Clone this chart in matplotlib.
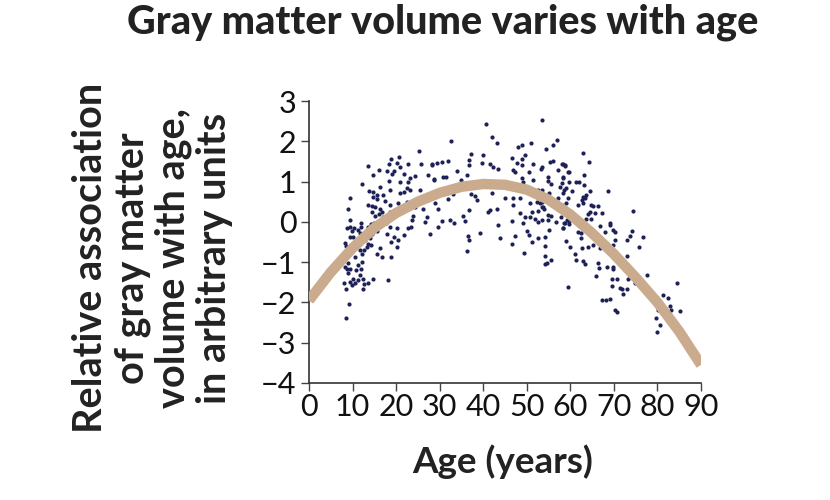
import matplotlib
matplotlib.use("Agg")
import matplotlib.pyplot as plt

# scatter points (age in years, relative association)
young_age = [25.3, 13.6, 18.8, 20.7, 18.4, 20.1, 22.8, 20.9, 25.7, 28.2, 16.0, 17.8, 19.6, 19.0, 21.7,
             23.2, 24.3, 14.8, 12.1, 18.4, 20.9, 22.8, 22.6, 23.2, 21.8, 16.3, 13.8, 14.8, 15.5, 17.1,
             18.6, 20.9, 25.5, 27.4, 28.8, 9.4, 14.8, 15.5, 17.4, 18.6, 14.4, 13.6, 15.1, 16.3, 14.4,
             16.7, 15.1, 16.1, 16.9, 18.6, 20.4, 22.4, 24.3, 23.9, 23.6, 23.4, 22.8, 21.7, 20.1, 18.6,
             17.7, 16.3, 18.6, 18.0, 19.4, 20.4, 18.9, 20.1, 18.9, 16.3, 16.7, 15.5, 14.2, 13.6, 13.2,
             12.6, 12.1, 11.7, 10.9, 10.2, 9.3, 9.8, 8.8, 9.4, 10.3, 11.3, 11.9, 11.6, 11.9, 9.4,
             9.0, 13.6, 14.2, 14.9, 15.5, 14.5, 14.0, 12.9, 12.5, 11.9, 8.3, 8.6, 10.2, 10.8, 10.6,
             12.1, 11.3, 11.9, 10.9, 11.7, 12.5, 11.3, 10.2, 9.4, 10.6, 9.8, 8.6, 8.0, 9.0, 8.8,
             8.3, 9.0, 9.4, 14.8, 13.6, 12.7, 12.5, 18.2, 9.2, 8.6, 26.6, 27.8, 29.5, 26.2, 27.0,
             29.7, 29.3]
young_val = [1.77, 1.39, 1.55, 1.60, 1.43, 1.45, 1.43, 1.37, 1.43, 1.41, 1.29, 1.26, 1.26, 1.20, 1.19,
             1.08, 1.14, 1.16, 0.95, 1.02, 0.99, 0.99, 0.85, 0.79, 0.75, 0.87, 0.76, 0.75, 0.66, 0.66,
             0.79, 0.71, 0.79, 1.16, 1.06, 0.60, 0.61, 0.56, 0.51, 0.42, 0.40, 0.42, 0.36, 0.33, 0.25,
             0.25, 0.14, 0.19, 0.13, 0.25, 0.47, 0.50, 0.37, 0.14, 0.04, -0.14, -0.16, -0.33, -0.16, 0.08,
             -0.04, 0.00, -0.12, -0.29, -0.37, -0.45, -0.50, -0.62, -0.87, -0.66, -0.87, -0.79, -0.58, -0.54, -0.62,
             -0.70, -0.79, -0.69, -0.50, -0.37, -0.37, -0.23, -0.16, -0.12, -0.16, -0.20, -0.12, -0.27, -0.02, 0.04,
             0.33, -0.12, -0.06, -0.04, -0.23, -0.29, -0.41, -0.45, -0.31, -0.31, -0.52, -0.60, -0.54, -0.62, -0.87,
             -0.99, -1.08, -1.16, -1.20, -1.32, -1.41, -1.45, -1.41, -1.49, -1.53, -1.57, -1.66, -1.52, -1.28, -1.18,
             -1.12, -1.03, -1.18, -1.41, -1.52, -1.55, -1.66, -1.45, -2.03, -2.39, 0.00, -0.29, -0.14, 0.33, 0.13,
             0.33, 1.45]

middle_age = [40.6, 53.6, 41.9, 43.1, 32.6, 37.1, 39.9, 36.8, 36.8, 39.7, 41.5, 42.3, 43.3, 32.0, 30.5,
              28.2, 34.0, 36.2, 31.4, 30.8, 34.8, 28.8, 46.7, 48.0, 48.8, 51.0, 49.6, 47.8, 49.0, 48.8,
              46.9, 47.3, 50.6, 51.5, 53.3, 53.6, 54.4, 56.1, 57.0, 55.3, 56.1, 57.2, 58.1, 58.8, 59.5,
              58.4, 54.9, 54.8, 55.5, 53.5, 52.6, 51.5, 49.0, 49.2, 58.0, 57.6, 59.0, 58.4, 59.5, 59.0,
              58.0, 57.1, 55.1, 53.5, 53.0, 52.3, 50.7, 53.6, 54.0, 54.8, 52.6, 51.1, 51.9, 50.7, 49.6,
              48.4, 46.9, 46.9, 48.4, 45.0, 41.9, 37.3, 38.1, 38.6, 36.8, 35.4, 35.8, 41.2, 41.5, 43.1,
              43.5, 46.5, 49.2, 52.6, 53.6, 55.5, 54.9, 56.8, 58.5, 59.8, 58.2, 55.2, 54.2, 52.6, 54.2,
              51.3, 50.6, 50.0, 49.3, 47.3, 46.6, 43.8, 39.3, 36.4, 36.8, 36.3, 32.4, 33.3, 30.5, 28.9,
              31.8, 33.1, 54.2, 54.6, 54.2, 55.5, 59.5, 54.6, 53.8]
middle_val = [2.44, 2.53, 2.11, 1.95, 2.01, 1.68, 1.66, 1.53, 1.41, 1.47, 1.43, 1.37, 1.31, 1.51, 1.48,
              1.43, 1.27, 1.16, 1.12, 1.12, 1.04, 1.05, 1.58, 1.87, 1.92, 1.95, 1.66, 1.45, 1.41, 1.55,
              1.29, 1.24, 1.25, 1.43, 1.30, 1.35, 1.80, 1.91, 2.03, 1.49, 1.52, 1.29, 1.43, 1.41, 1.25,
              1.12, 1.12, 1.01, 0.95, 0.80, 0.80, 1.05, 1.10, 0.99, 0.97, 0.87, 0.83, 0.71, 0.59, 0.46,
              0.42, 0.58, 0.71, 0.50, 0.46, 0.50, 0.46, 0.36, 0.33, 0.17, 0.27, 0.25, 0.08, 0.13, 0.13,
              0.21, 0.58, 0.42, 0.58, 0.58, 0.72, 0.68, 0.64, 0.54, 0.29, 0.14, 0.03, 0.25, 0.29, 0.31,
              -0.07, 0.02, -0.04, 0.00, 0.04, 0.14, 0.04, 0.00, -0.02, 0.02, -0.16, -0.21, -0.37, -0.40, -0.60,
              -0.51, -0.33, -0.22, -0.77, -0.34, -0.55, -0.41, -0.27, -0.34, -0.44, -0.72, 0.04, -0.02, 0.02, 0.47,
              0.56, 0.69, -0.85, -1.03, -1.05, -0.95, -1.61, 0.62, 0.37]

old_age = [62.8, 64.3, 58.2, 58.8, 59.8, 63.1, 58.2, 59.8, 61.2, 62.0, 63.1, 64.5, 68.7, 58.5, 60.3,
           63.6, 63.0, 62.6, 63.4, 63.0, 61.8, 64.7, 65.3, 66.4, 64.5, 64.1, 65.6, 67.2, 63.7, 64.7,
           57.8, 59.3, 58.8, 58.4, 59.8, 61.8, 62.4, 66.8, 69.1, 69.1, 69.9, 70.2, 67.9, 74.1, 73.7,
           76.6, 74.3, 59.0, 62.4, 65.1, 64.1, 66.8, 70.2, 69.9, 72.9, 75.8, 72.9, 69.9, 61.1, 59.9,
           61.4, 62.6, 63.0, 63.4, 66.4, 66.6, 68.3, 69.9, 69.9, 66.0, 69.5, 70.6, 73.3, 73.7, 72.9,
           74.8, 76.0, 77.5, 71.4, 71.8, 69.5, 72.1, 67.2, 68.1, 69.2, 70.2, 70.6, 81.2, 82.5, 84.5,
           82.9, 83.0, 85.2, 80.2, 79.6, 80.6, 80.0]
old_val = [1.72, 1.48, 1.43, 1.39, 1.23, 1.16, 1.10, 0.98, 0.98, 1.00, 0.91, 0.77, 0.76, 0.79, 0.76,
           0.66, 0.61, 0.54, 0.58, 0.46, 0.42, 0.42, 0.40, 0.40, 0.25, 0.19, 0.21, 0.22, 0.08, 0.08,
           0.13, 0.04, -0.04, -0.15, -0.05, -0.25, -0.27, -0.11, -0.04, -0.08, -0.19, -0.26, -0.25, -0.23, -0.36,
           -0.37, 0.28, -0.47, -0.40, -0.58, -0.62, -0.64, -0.45, -0.58, -0.45, -0.62, -0.85, -0.87, -0.80, -0.62,
           -0.95, -0.66, -0.97, -1.05, -1.02, -1.14, -1.12, -1.12, -1.16, -1.35, -1.41, -1.41, -1.41, -1.37, -1.66,
           -1.53, -1.53, -1.33, -1.64, -1.66, -1.60, -1.78, -1.93, -1.93, -1.92, -2.19, -2.24, -1.82, -1.88, -1.51,
           -2.10, -2.18, -2.22, -2.19, -2.38, -2.57, -2.73]

# fitted trend
fit_age = [0, 5, 10, 15, 20, 25, 30, 35, 40, 45, 50, 55, 60, 65, 70, 75, 80, 85, 90]
fit_val = [-1.95, -1.25, -0.65, -0.15, 0.22, 0.50, 0.72, 0.87, 0.94, 0.92, 0.80, 0.55, 0.18,
           -0.28, -0.80, -1.38, -2.00, -2.72, -3.55]

x_ticks = [0, 10, 20, 30, 40, 50, 60, 70, 80, 90]
y_ticks = [3, 2, 1, 0, -1, -2, -3, -4]

plt.rcParams['font.family'] = ['Lato', 'DejaVu Sans']
plt.rcParams['axes.unicode_minus'] = True

fig = plt.figure(figsize=(8.3, 5.0), dpi=100)
ax = fig.add_axes([0.3723, 0.234, 0.4723, 0.564])

dot_color = "#1d2156"
fit_color = "#cbab8d"
axis_color = "#333333"

ax.scatter(young_age + middle_age + old_age, young_val + middle_val + old_val,
           s=9, color=dot_color, linewidths=0, zorder=2)
ax.plot(fit_age, fit_val, color=fit_color, linewidth=7.5, solid_capstyle="butt", zorder=3)

ax.set_xlim(0, 90)
ax.set_ylim(-4, 3)
ax.set_xticks(x_ticks)
ax.set_yticks(y_ticks)
ax.set_yticklabels([str(v).replace("-", "\u2212") for v in y_ticks])

for side in ["top", "right"]:
    ax.spines[side].set_visible(False)
for side in ["left", "bottom"]:
    ax.spines[side].set_color(axis_color)
    ax.spines[side].set_linewidth(1.2)

ax.tick_params(axis="both", direction="out", length=6, width=1, color="#444444",
               labelsize=22, labelcolor="#111111")
ax.tick_params(axis="x", pad=1)
ax.tick_params(axis="y", pad=3)

fig.text(0.533, 0.955, "Gray matter volume varies with age", ha="center", va="center",
         fontsize=28.5, fontweight="black", color="#222222")
fig.text(0.606, 0.076, "Age (years)", ha="center", va="center",
         fontsize=26.5, fontweight="bold", color="#222222")
fig.text(0.184, 0.484,
         "Relative association\nof gray matter\nvolume with age,\nin arbitrary units",
         ha="center", va="center", rotation=90, multialignment="center",
         fontsize=28.5, fontweight="bold", color="#222222", linespacing=1.13)

fig.savefig("out.png", dpi=100)
